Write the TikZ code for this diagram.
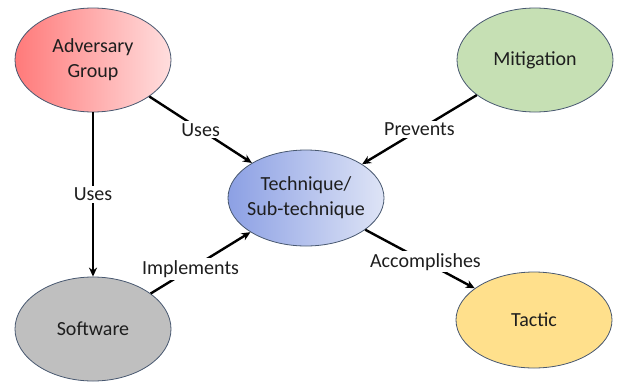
\documentclass[tikz,border=0pt]{standalone}
\usepackage{fontspec}
\setmainfont{Carlito}
\usetikzlibrary{shapes.geometric,arrows.meta}
\definecolor{rim}{RGB}{72,88,112}
\definecolor{advL}{RGB}{255,122,122}
\definecolor{advR}{RGB}{255,222,222}
\definecolor{techL}{RGB}{140,160,228}
\definecolor{techR}{RGB}{222,228,246}
\definecolor{softG}{RGB}{191,191,191}
\definecolor{mitG}{RGB}{198,224,180}
\definecolor{tacY}{RGB}{255,224,140}
\definecolor{ink}{RGB}{30,30,30}

\tikzset{
  blob/.style={ellipse, draw=rim, line width=0.8pt, minimum width=156, minimum height=104,
    inner sep=0pt, align=center, text=ink, font=\fontsize{20}{25}\selectfont},
  rel/.style={-{Stealth[length=9pt,width=8pt]}, line width=2.4pt},
  lbl/.style={fill=white, inner sep=2pt, text=ink, font=\fontsize{20}{24}\selectfont}
}

\begin{document}
\begin{tikzpicture}[x=1pt,y=-1pt]
    \useasboundingbox (0,0) rectangle (618,381);
    %ellipses
    \node[blob, left color=advL, right color=advR] (adv) at (93,60) {Adversary\\Group};
    \node[blob, fill=mitG] (mit) at (535,60) {Mitigation};
    \node[blob, minimum height=96, inner xsep=-6pt, inner ysep=-4pt, left color=techL, right color=techR] (tech) at (306,198) {Technique/\\Sub-technique};
    \node[blob, fill=softG] (soft) at (93,329) {Software};
    \node[blob, minimum height=96, fill=tacY] (tac) at (534,320) {Tactic};

    %relations
    \draw[rel] (adv) -- node[lbl] {Uses} (tech);
    \draw[rel] (mit) -- node[lbl] {Prevents} (tech);
    \draw[rel] (tech) -- node[lbl, pos=0.55] {Accomplishes} (tac);
    \draw[rel] (soft) -- node[lbl, pos=0.4] {Implements} (tech);
    \draw[rel] (adv) -- node[lbl] {Uses} (soft);
\end{tikzpicture}
\end{document}
